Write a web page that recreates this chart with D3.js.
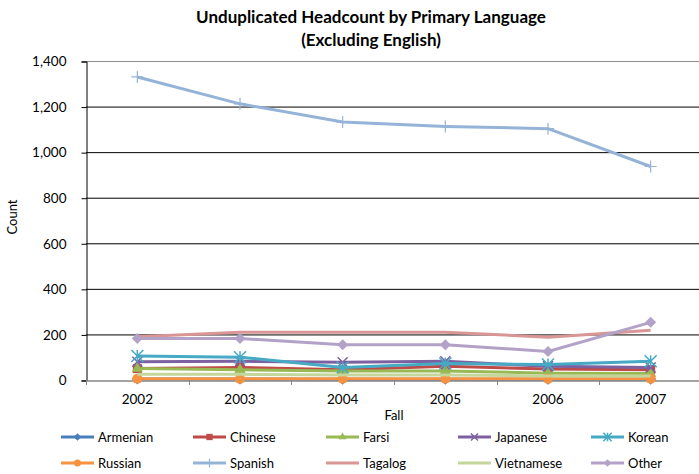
<!DOCTYPE html>
<html>
<head>
<meta charset="utf-8">
<script src="https://cdn.jsdelivr.net/npm/d3@7"></script>
<style>
    body { margin: 0; background: #fff; }
    text { font-family: Lato, "Open Sans", sans-serif; fill: #000; }
</style>
</head>
<body>
<div id="chart"></div>
<script>
// Chart data
let years = ["2002", "2003", "2004", "2005", "2006", "2007"];
let yTicks = [0, 200, 400, 600, 800, 1000, 1200, 1400];
let languages = ["Armenian", "Chinese", "Farsi", "Japanese", "Korean", "Russian", "Spanish", "Tagalog", "Vietnamese", "Other"];
let armenian = [4, 4, 3, 3, 3, 3];
let chinese = [50, 55, 45, 60, 48, 45];
let farsi = [50, 45, 40, 40, 30, 28];
let japanese = [80, 82, 78, 82, 60, 55];
let korean = [105, 100, 55, 72, 68, 82];
let russian = [6, 5, 6, 6, 5, 6];
let spanish = [1330, 1212, 1132, 1113, 1103, 937];
let tagalog = [190, 210, 210, 210, 188, 218];
let vietnamese = [25, 25, 22, 22, 18, 18];
let other = [182, 182, 155, 155, 125, 253];

let seriesValues = [armenian, chinese, farsi, japanese, korean, russian, spanish, tagalog, vietnamese, other];
let colors = ["#4A7EBB", "#BE4B48", "#98B954", "#7D60A0", "#46AAC5", "#F69240", "#95B3D7", "#D99694", "#C3D69B", "#B3A2C7"];
let markers = ["diamond", "square", "triangle", "x", "star", "circle", "plus", "none", "none", "diamond"];

let series = languages.map((name, i) => ({ name: name, values: seriesValues[i], color: colors[i], marker: markers[i] }));

let width = 699, height = 474;
let svg = d3.select("#chart").append("svg").attr("width", width).attr("height", height);

// Plot area
let plotLeft = 86, plotRight = 702, plotTop = 61, plotBottom = 380;

let xScale = d3.scaleBand().domain(years).range([plotLeft, plotRight]);
let yScale = d3.scaleLinear().domain([0, 1400]).range([plotBottom, plotTop]);

// Title
svg.append("text").attr("x", 371).attr("y", 23).attr("text-anchor", "middle")
    .style("font-size", "17px").style("font-weight", "bold").text("Unduplicated Headcount by Primary Language");
svg.append("text").attr("x", 371).attr("y", 46).attr("text-anchor", "middle")
    .style("font-size", "17px").style("font-weight", "bold").text("(Excluding English)");

// Horizontal gridlines
svg.append("g").selectAll("line").data(yTicks.filter(d => d > 0)).join("line")
    .attr("x1", plotLeft).attr("x2", plotRight)
    .attr("y1", d => yScale(d) + 0.5).attr("y2", d => yScale(d) + 0.5)
    .attr("stroke", d => d === 1400 ? "#8c8c8c" : "#000").attr("stroke-width", 1);

// Y axis
let yAxis = d3.axisLeft(yScale).tickValues(yTicks).tickFormat(d3.format(",")).tickSize(5).tickPadding(15);
let yG = svg.append("g").attr("transform", `translate(${plotLeft + 0.5},0.5)`).call(yAxis);
yG.select(".domain").attr("stroke", "#000");
yG.selectAll(".tick line").attr("stroke", "#000");
yG.selectAll("text").style("font-size", "13.5px").style("font-family", "Lato, sans-serif");

// X axis
let xAxis = d3.axisBottom(xScale).tickSize(0).tickPadding(14);
let xG = svg.append("g").attr("transform", `translate(0,${plotBottom + 0.5})`).call(xAxis);
xG.select(".domain").attr("stroke", "#868686").attr("stroke-width", 1.5);
xG.selectAll("text").style("font-size", "13.5px").style("font-family", "Lato, sans-serif");

// Tick marks between the categories
svg.append("g").selectAll("line").data(years).join("line")
    .attr("x1", d => Math.round(xScale(d)) + 0.5).attr("x2", d => Math.round(xScale(d)) + 0.5)
    .attr("y1", plotBottom).attr("y2", plotBottom + 5).attr("stroke", "#868686");

// Axis titles
svg.append("text").attr("x", 394).attr("y", 420).attr("text-anchor", "middle").style("font-size", "13px").text("Fall");
svg.append("text").attr("transform", "translate(17,217) rotate(-90)").attr("text-anchor", "middle")
    .style("font-size", "13px").text("Count");

// Draws a marker shape at the origin
function drawMarker(g, type, color, size) {
    if (type === "diamond") {
        g.append("path").attr("d", d3.symbol(d3.symbolSquare, size * size * 0.5)()).attr("fill", color).attr("transform", "rotate(45)");
    } else if (type === "square") {
        g.append("rect").attr("x", -size / 2).attr("y", -size / 2).attr("width", size).attr("height", size).attr("fill", color);
    } else if (type === "triangle") {
        g.append("path").attr("d", d3.symbol(d3.symbolTriangle, size * size * 0.45)()).attr("fill", color);
    } else if (type === "circle") {
        g.append("circle").attr("r", size / 2).attr("fill", color);
    } else if (type === "x") {
        let h = size / 2;
        g.append("path").attr("d", `M${-h},${-h}L${h},${h}M${-h},${h}L${h},${-h}`).attr("stroke", color).attr("stroke-width", 1.5);
    } else if (type === "star") {
        let h = size / 2;
        g.append("path").attr("d", `M${-h},${-h}L${h},${h}M${-h},${h}L${h},${-h}M0,${-h}L0,${h}`).attr("stroke", color).attr("stroke-width", 1.5);
    } else if (type === "plus") {
        let h = size / 2;
        g.append("path").attr("d", `M${-h},0L${h},0M0,${-h}L0,${h}`).attr("stroke", color).attr("stroke-width", 1.2);
    }
}

// Line generator
let lineGen = d3.line()
    .x((d, i) => xScale(years[i]) + xScale.bandwidth() / 2)
    .y(d => yScale(d));

let markerSize = { diamond: 11, square: 9, triangle: 11, x: 10, star: 12, circle: 10, plus: 12, none: 0 };

// Draws each series in order, Other ends on top
series.forEach(s => {
    let g = svg.append("g");
    g.append("path").datum(s.values).attr("d", lineGen)
        .attr("fill", "none").attr("stroke", s.color).attr("stroke-width", 3).attr("stroke-linejoin", "round");
    if (s.marker !== "none") {
        s.values.forEach((v, i) => {
            let m = g.append("g").attr("transform", `translate(${xScale(years[i]) + xScale.bandwidth() / 2},${yScale(v)})`);
            drawMarker(m, s.marker, s.color, markerSize[s.marker]);
        });
    }
});

// Legend
let legendX = [61, 193, 326, 458, 591];
let legendY = [437, 463];
series.forEach((s, i) => {
    let lg = svg.append("g").attr("transform", `translate(${legendX[i % 5]},${legendY[Math.floor(i / 5)]})`);
    lg.append("line").attr("x1", 0).attr("x2", 33).attr("y1", 0).attr("y2", 0).attr("stroke", s.color).attr("stroke-width", 3);
    if (s.marker !== "none") {
        let m = lg.append("g").attr("transform", "translate(16.5,0)");
        drawMarker(m, s.marker, s.color, markerSize[s.marker] * 0.7);
    }
    lg.append("text").attr("x", 37).attr("y", 0).attr("dy", "0.35em").style("font-size", "13px").text(s.name);
});
</script>
</body>
</html>
